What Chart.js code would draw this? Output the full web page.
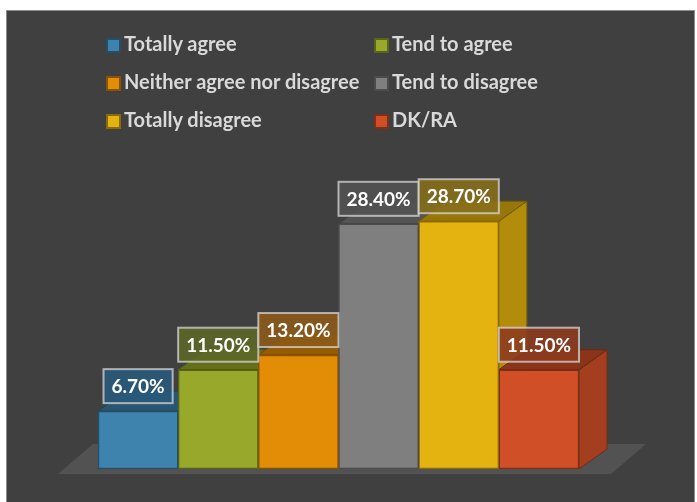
<!DOCTYPE html>
<html>
<head>
<meta charset="utf-8">
<script src="https://cdn.jsdelivr.net/npm/chart.js@4.4.0/dist/chart.umd.min.js"></script>
<style>
    body { margin: 0; background: #ffffff; }
    #frame {
        position: absolute;
        left: 6px;
        top: 10px;
        width: 689px;
        height: 493px;
        box-sizing: border-box;
        border: 1px solid #8d8d8d;
        background: #404040;
        overflow: hidden;
    }
    #surveyChart { position: absolute; left: 0; top: 0; }
    #legend {
        position: absolute;
        left: 99px;
        top: 27px;
        display: grid;
        grid-template-columns: 268px auto;
        row-gap: 23px;
        font: bold 20px Lato, sans-serif;
        color: #d9d9d9;
    }
    .item { display: flex; align-items: center; height: 15px; line-height: 15px; white-space: nowrap; }
    .item span.name { position: relative; top: -2px; }
    .swatch { width: 15px; height: 15px; box-sizing: border-box; border: 2px solid; margin-right: 3px; }
</style>
</head>
<body>
<div id="frame">
    <canvas id="surveyChart" width="687" height="491"></canvas>
    <div id="legend"></div>
</div>
<script>
// Survey answers, share of respondents (%)
const categories = ['Totally agree', 'Tend to agree', 'Neither agree nor disagree', 'Tend to disagree', 'Totally disagree', 'DK/RA'];
const shares = [6.7, 11.5, 13.2, 28.4, 28.7, 11.5];
const seriesColors = ['#3d83ae', '#97a82b', '#e38c06', '#7f7f7f', '#e5b30f', '#d14f26'];
const labelFills = [
    'rgba(40, 90, 124, 0.88)',
    'rgba(92, 104, 38, 0.88)',
    'rgba(140, 90, 24, 0.88)',
    'rgba(82, 82, 82, 0.88)',
    'rgba(134, 110, 26, 0.88)',
    'rgba(140, 58, 30, 0.88)'
];

// Depth of the bar boxes and of the floor
const DEPTH_X = 28;
const DEPTH_Y = -20;

// Multiply a hex colour by a factor
function shade(hex, f) {
    const n = parseInt(hex.slice(1), 16);
    const r = Math.round(((n >> 16) & 255) * f);
    const g = Math.round(((n >> 8) & 255) * f);
    const b = Math.round((n & 255) * f);
    return `rgb(${r}, ${g}, ${b})`;
}

function polygon(ctx, pts, fill, stroke) {
    ctx.beginPath();
    ctx.moveTo(pts[0][0], pts[0][1]);
    for (let i = 1; i < pts.length; i++) ctx.lineTo(pts[i][0], pts[i][1]);
    ctx.closePath();
    ctx.fillStyle = fill;
    ctx.fill();
    if (stroke) {
        ctx.strokeStyle = stroke;
        ctx.lineWidth = 1;
        ctx.stroke();
    }
}

// Floor, side and top faces behind the bar fronts, then value boxes on top
const bar3d = {
    id: 'bar3d',
    beforeDatasetsDraw(chart) {
        const { ctx, chartArea } = chart;
        const base = chart.scales.y.getPixelForValue(0);
        const fy = base + 5;
        const fl = chartArea.left - 40;
        const fr = chartArea.right + 32;
        ctx.save();
        polygon(ctx, [[fl, fy], [fr, fy], [fr + 35, fy - 30], [fl + 35, fy - 30]], '#525252');

        chart.data.datasets.forEach((ds, i) => {
            const color = seriesColors[i];
            chart.getDatasetMeta(i).data.forEach(bar => {
                const { x, y, base, width } = bar.getProps(['x', 'y', 'base', 'width'], true);
                const l = x - width / 2;
                const r = x + width / 2;
                // right side
                polygon(ctx, [[r, y], [r + DEPTH_X, y + DEPTH_Y], [r + DEPTH_X, base + DEPTH_Y], [r, base]],
                    shade(color, 0.78), shade(color, 0.55));
                // top
                polygon(ctx, [[l, y], [r, y], [r + DEPTH_X, y + DEPTH_Y], [l + DEPTH_X, y + DEPTH_Y]],
                    shade(color, 0.66), shade(color, 0.5));
            });
        });
        ctx.restore();
    },
    afterDatasetsDraw(chart) {
        const ctx = chart.ctx;
        ctx.save();
        ctx.font = 'bold 19px Lato, sans-serif';
        ctx.textAlign = 'center';
        ctx.textBaseline = 'middle';
        chart.data.datasets.forEach((ds, i) => {
            chart.getDatasetMeta(i).data.forEach((bar, j) => {
                const { x, y } = bar.getProps(['x', 'y'], true);
                const text = ds.data[j].toFixed(2) + '%';
                const w = ctx.measureText(text).width + 16;
                const h = 34;
                const bx = x - w / 2;
                const by = y - 8 - h;
                ctx.fillStyle = labelFills[i];
                ctx.fillRect(bx, by, w, h);
                ctx.strokeStyle = 'rgba(215, 215, 215, 0.75)';
                ctx.lineWidth = 2;
                ctx.strokeRect(bx, by, w, h);
                ctx.fillStyle = '#ffffff';
                ctx.fillText(text, x, by + h / 2 + 1);
            });
        });
        ctx.restore();
    }
};

const datasets = categories.map((name, i) => ({
    label: name,
    data: [shares[i]],
    backgroundColor: seriesColors[i],
    borderColor: shade(seriesColors[i], 0.6),
    borderWidth: 1.5,
    borderSkipped: false
}));

new Chart(document.getElementById('surveyChart'), {
    type: 'bar',
    data: { labels: [''], datasets: datasets },
    options: {
        responsive: false,
        animation: false,
        layout: { padding: { left: 91, right: 115, top: 199, bottom: 33 } },
        datasets: { bar: { barPercentage: 1, categoryPercentage: 1, clip: false } },
        plugins: {
            legend: { display: false },
            tooltip: { enabled: false }
        },
        scales: {
            x: { display: false },
            y: { display: false, min: 0, max: 30 }
        }
    },
    plugins: [bar3d]
});

// Two-column legend
const legend = document.getElementById('legend');
categories.forEach((name, i) => {
    const item = document.createElement('div');
    item.className = 'item';
    const sw = document.createElement('span');
    sw.className = 'swatch';
    sw.style.background = seriesColors[i];
    sw.style.borderColor = shade(seriesColors[i], 0.6);
    const label = document.createElement('span');
    label.className = 'name';
    label.textContent = name;
    item.appendChild(sw);
    item.appendChild(label);
    legend.appendChild(item);
});
</script>
</body>
</html>
